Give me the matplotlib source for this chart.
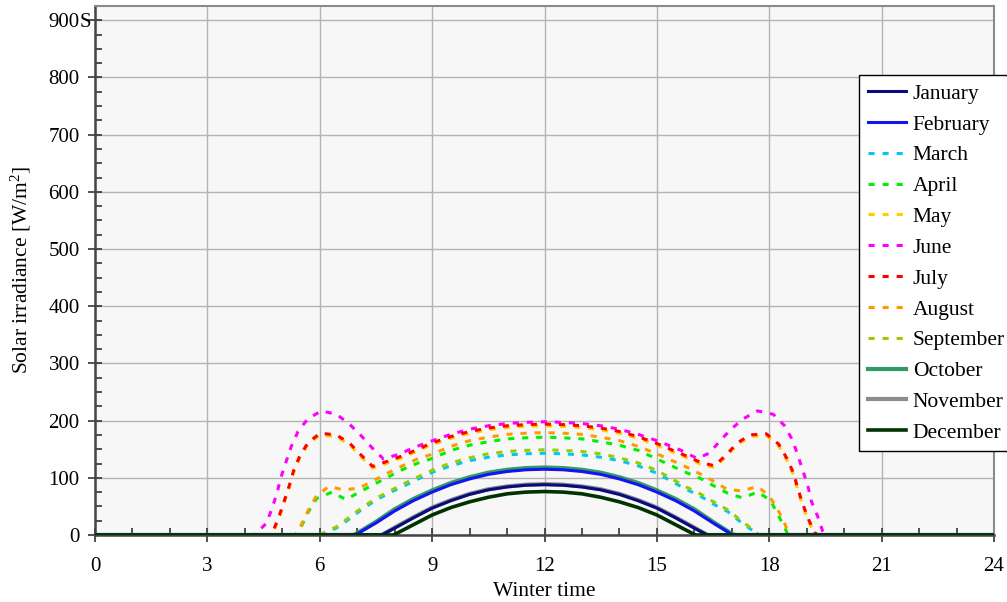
import matplotlib
matplotlib.use("Agg")
import matplotlib.pyplot as plt
from matplotlib.ticker import MultipleLocator

plt.rcParams['font.family'] = ['Liberation Serif', 'DejaVu Serif']
plt.rcParams['mathtext.fontset'] = 'custom'
plt.rcParams['mathtext.rm'] = 'Liberation Serif'
plt.rcParams['mathtext.it'] = 'Liberation Serif:italic'

# hour of day / irradiance [W/m2]
t_feb = [0, 6.9, 7.0, 7.5, 8.0, 8.5, 9.0, 9.5, 10.0, 10.5, 11.0, 11.5, 12.0,
         12.5, 13.0, 13.5, 14.0, 14.5, 15.0, 15.5, 16.0, 16.5, 17.0, 17.1, 24]
v_oct = [0, 0, 3, 23, 45, 63, 78, 91, 101, 109, 114, 117, 118,
         117, 114, 109, 101, 91, 78, 63, 45, 23, 2, 0, 0]
v_feb = [0, 0, 2, 21, 42, 60, 75, 88, 98, 106, 111, 114, 115,
         114, 111, 106, 98, 88, 75, 60, 42, 21, 1, 0, 0]

t_nov = [0, 7.65, 8.0, 8.5, 9.0, 9.5, 10.0, 10.5, 11.0, 11.5, 12.0,
         12.5, 13.0, 13.5, 14.0, 14.5, 15.0, 15.5, 16.0, 16.35, 24]
v_nov = [0, 0, 13, 31, 48, 61, 72, 80, 85, 88, 89,
         88, 85, 80, 72, 61, 48, 31, 13, 0, 0]
v_jan = [0, 0, 12, 30, 47, 60, 71, 79, 84, 87, 88,
         87, 84, 79, 71, 60, 47, 30, 12, 0, 0]

t_dec = [0, 7.95, 8.0, 8.5, 9.0, 9.5, 10.0, 10.5, 11.0, 11.5, 12.0,
         12.5, 13.0, 13.5, 14.0, 14.5, 15.0, 15.5, 16.0, 16.05, 24]
v_dec = [0, 0, 1, 18, 35, 48, 58, 66, 72, 75, 76,
         75, 72, 66, 58, 48, 35, 18, 1, 0, 0]

t_mar = [0, 6.0, 6.08, 6.44, 6.77, 7.13, 7.5, 7.87, 8.26, 8.66, 9.06, 9.5, 10.0, 10.5,
         11.0, 11.5, 12.0, 12.5, 13.0, 13.5, 14.0, 14.5, 15.0, 15.78, 16.16, 16.54,
         16.89, 17.25, 17.64, 17.7, 24]
v_mar = [0, 0, 2, 12, 27, 45, 61, 74, 86, 99, 111, 121, 130, 136,
         140, 142, 143, 142, 140, 136, 130, 121, 108, 80, 68, 53,
         41, 22, 4, 0, 0]
v_sep = [0, 0, 3, 14, 30, 48, 64, 77, 90, 103, 115, 126, 135, 142,
         146, 148, 149, 148, 146, 142, 135, 126, 113, 84, 72, 57,
         44, 25, 6, 0, 0]

t_apr = [0, 5.35, 5.5, 5.7, 5.92, 6.33, 6.7, 7.06, 7.46, 7.84, 8.23, 8.63, 9.01, 9.5,
         10.0, 10.5, 11.0, 11.5, 12.0, 12.5, 13.0, 13.5, 14.0, 14.5, 15.0, 15.72,
         16.16, 16.52, 16.92, 17.29, 17.69, 18.03, 18.23, 18.42, 18.5, 24]
v_apr = [0, 0, 14, 41, 64, 75, 62, 75, 89, 102, 115, 126, 134, 148,
         157, 163, 168, 170, 171, 170, 168, 163, 157, 148, 133, 111,
         99, 86, 72, 65, 75, 61, 36, 12, 0, 0]

t_aug = [0, 5.38, 5.5, 5.7, 5.9, 6.24, 6.63, 7.06, 7.43, 7.81, 8.21, 8.61, 8.99, 9.5,
         10.0, 10.5, 11.0, 11.5, 12.0, 12.5, 13.0, 13.5, 14.0, 14.5, 15.0, 15.72,
         16.12, 16.49, 16.87, 17.27, 17.69, 18.0, 18.23, 18.42, 18.52, 24]
v_aug = [0, 0, 17, 44, 67, 85, 79, 82, 95, 108, 121, 133, 141, 155,
         165, 171, 176, 178, 179, 178, 176, 171, 165, 155, 142, 121,
         108, 95, 80, 77, 85, 68, 44, 19, 0, 0]

t_jul = [0, 4.65, 4.75, 4.91, 5.04, 5.18, 5.3, 5.46, 5.68, 6.01, 6.44, 6.79, 7.1, 7.41,
         7.77, 8.19, 8.59, 8.99, 9.5, 10.0, 10.5, 11.0, 11.5, 12.0, 12.5, 13.0, 13.5,
         14.0, 14.5, 15.0, 15.43, 15.83, 16.16, 16.54, 16.85, 17.15, 17.49, 17.92,
         18.25, 18.47, 18.65, 18.76, 18.89, 19.05, 19.22, 19.3, 24]
v_jul = [0, 0, 6, 32, 57, 85, 112, 137, 161, 178, 175, 161, 140, 120,
         128, 138, 149, 161, 172, 181, 187, 191, 193, 194, 193, 191, 187,
         181, 172, 160, 148, 137, 127, 121, 140, 161, 175, 177,
         159, 134, 108, 82, 55, 27, 4, 0, 0]
v_may = [0, 0, 4, 29, 54, 82, 109, 134, 158, 175, 172, 158, 137, 117,
         125, 135, 146, 158, 169, 178, 184, 188, 190, 191, 190, 188, 184,
         178, 169, 157, 145, 134, 124, 118, 137, 158, 172, 174,
         156, 131, 105, 79, 52, 24, 2, 0, 0]

t_jun = [0, 4.2, 4.28, 4.57, 4.73, 4.86, 4.97, 5.1, 5.24, 5.42, 5.68, 6.04, 6.45, 6.79,
         7.1, 7.39, 7.7, 8.11, 8.48, 8.88, 9.5, 10.0, 10.5, 11.0, 11.5, 12.0, 12.5,
         13.0, 13.5, 14.0, 14.5, 15.0, 15.65, 16.07, 16.4, 16.69, 16.98, 17.3, 17.69,
         18.11, 18.41, 18.62, 18.76, 18.89, 19.03, 19.13, 19.29, 19.43, 19.5, 24]
v_jun = [0, 0, 2, 20, 47, 74, 102, 128, 155, 181, 203, 217, 211, 194,
         174, 153, 133, 141, 152, 162, 176, 185, 191, 195, 197, 198, 197,
         195, 191, 185, 176, 165, 148, 134, 143, 165, 185, 203, 217,
         211, 191, 166, 140, 114, 86, 58, 33, 6, 0, 0]

xticks = [0, 3, 6, 9, 12, 15, 18, 21, 24]
yticks = [0, 100, 200, 300, 400, 500, 600, 700, 800, 900]

fig = plt.figure(figsize=(10.07, 6.02), dpi=100)
ax = fig.add_axes([95 / 1007, 1 - 535 / 602, 899 / 1007, 529 / 602])
ax.set_facecolor('#f7f7f7')

dash = (0, (2.0, 2.6))
lw = 2.2
ax.plot(t_nov, v_jan, color='#0a0a80', lw=lw, label='January', zorder=5)
ax.plot(t_feb, v_feb, color='#1414f0', lw=lw, label='February', zorder=5)
ax.plot(t_mar, v_mar, color='#00c8f0', lw=lw, ls=dash, label='March')
ax.plot(t_apr, v_apr, color='#00f000', lw=lw, ls=dash, label='April')
ax.plot(t_jul, v_may, color='#ffcc00', lw=lw, ls=dash, label='May')
ax.plot(t_jun, v_jun, color='#ff00ff', lw=lw, ls=dash, label='June')
ax.plot(t_jul, v_jul, color='#ff0000', lw=lw, ls=dash, label='July')
ax.plot(t_aug, v_aug, color='#ff9900', lw=lw, ls=dash, label='August')
ax.plot(t_mar, v_sep, color='#99cc00', lw=lw, ls=dash, label='September')
ax.plot(t_feb, v_oct, color='#339966', lw=3.0, label='October', zorder=4)
ax.plot(t_nov, v_nov, color='#8c8c8c', lw=3.0, label='November', zorder=4)
ax.plot(t_dec, v_dec, color='#003300', lw=2.6, label='December', zorder=6)

ax.set_xlim(0, 24)
ax.set_ylim(0, 925)
ax.set_xticks(xticks)
ax.set_yticks(yticks)
ax.xaxis.set_minor_locator(MultipleLocator(1))
ax.yaxis.set_minor_locator(MultipleLocator(25))
ax.tick_params(which='major', direction='inout', length=10, width=1.2,
               labelsize=15, color='#333333')
ax.tick_params(axis='x', which='major', pad=11)
ax.tick_params(axis='y', which='major', pad=6)
ax.tick_params(which='minor', direction='in', length=5, width=1.2, color='#333333')
ax.grid(True, which='major', color='#b4b4b4', lw=1.0)
ax.set_axisbelow(True)

for s in ['left', 'bottom']:
    ax.spines[s].set_color('#444444')
    ax.spines[s].set_linewidth(1.8)
for s in ['top', 'right']:
    ax.spines[s].set_color('#8a8a8a')
    ax.spines[s].set_linewidth(1.5)

ax.text(-0.0166, 900, 'S', transform=ax.get_yaxis_transform(), ha='left',
        va='center_baseline', fontsize=15)

ax.set_xlabel('Winter time', fontsize=15.5, labelpad=4)
ax.set_ylabel(r'Solar irradiance [W/m$^2$]', fontsize=15.5, labelpad=11)

leg = ax.legend(loc='upper left', bbox_to_anchor=(859 / 1007, 1 - 75 / 602),
                bbox_transform=fig.transFigure, borderaxespad=0, fontsize=15.5,
                handlelength=1.8, handletextpad=0.3, labelspacing=0.5,
                borderpad=0.4, fancybox=False, framealpha=1, edgecolor='black')
leg.get_frame().set_linewidth(1.0)

fig.savefig('out.png', dpi=100)
